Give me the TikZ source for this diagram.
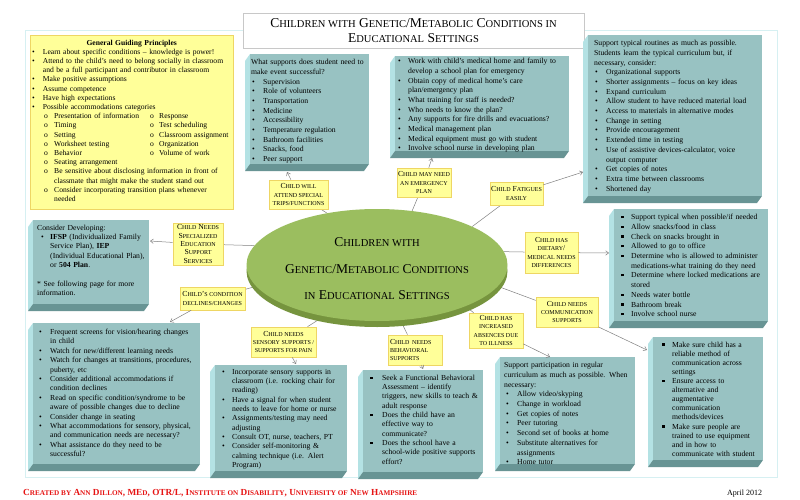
\documentclass[tikz,border=0pt]{standalone}
\usepackage{fontspec}
\setmainfont{Liberation Serif}
\usetikzlibrary{shapes.geometric,arrows.meta}
\pgfdeclarelayer{bg}
\pgfsetlayers{bg,main}
\makeatletter
\newcommand\lc[1]{{\fontsize{\fpeval{0.78*\f@size}}{\f@baselineskip}\selectfont #1}}
\makeatother
\newcommand\bl[3]{\par\noindent\hangindent=#2pt\hangafter=1\makebox[#2pt][l]{\hspace*{#1pt}\textbullet}{\let\\\newline #3}\par}
\newcommand\sq[3]{\par\noindent\hangindent=#2pt\hangafter=1\makebox[#2pt][l]{\hspace*{#1pt}\rule[1.5pt]{2.3pt}{2.3pt}}{\let\\\newline #3}\par}
\newcommand\pl[1]{\par\noindent{\let\\\newline #1}\par}
\newcommand\yo[1]{\par\noindent\hangindent=22pt\hangafter=1\makebox[22pt][l]{\hspace*{12pt}o}{\let\\\newline #1}\par}
\newcommand\yoo[2]{\par\noindent\makebox[22pt][l]{\hspace*{12pt}o}\makebox[96pt][l]{#1}\makebox[9pt][l]{o}#2\par}
\definecolor{cFace}{RGB}{152,194,194}
\definecolor{cSide}{RGB}{180,226,228}
\definecolor{cBot}{RGB}{104,148,148}
\definecolor{cYf}{RGB}{255,255,153}
\definecolor{cYb}{RGB}{238,214,100}
\definecolor{cGreen}{RGB}{155,190,95}
\definecolor{cLip}{RGB}{118,148,62}
\definecolor{cConn}{RGB}{128,128,128}
\definecolor{cFrame}{RGB}{214,240,242}
\definecolor{cTitle}{RGB}{200,200,200}
\definecolor{cRed}{RGB}{230,20,20}
\newcommand\tealbox[5]{%
  \fill[cSide] (#2,#3) -- ({#2-5},{#3+7}) -- ({#2-5},{#5+7}) -- (#2,#5) -- cycle;
  \fill[cBot] (#2,#5) -- (#4,#5) -- ({#4-5},{#5+7}) -- ({#2-5},{#5+7}) -- cycle;
  \node[tface, anchor=north west, minimum width={#4-#2}, minimum height={#5-#3}] (#1) at (#2,#3) {};
}
\begin{document}
\begin{tikzpicture}[x=1pt,y=-1pt,
  tface/.style={fill=cFace, draw=none, inner sep=0pt, rectangle},
  txt/.style={anchor=base west, inner sep=0pt, text width=260pt, align=left, font=\fontsize{7.7}{9.7}\selectfont},
  lab/.style={fill=cYf, draw=cYb, line width=0.6pt, inner sep=0pt, align=center, font=\fontsize{7.7}{8.4}\selectfont},
  link/.style={draw=cConn, line width=0.5pt},
  arr/.style={draw=cConn, line width=0.5pt, -{Straight Barb[length=3pt,width=4.5pt]}}]
\useasboundingbox (0,0) rectangle (800,500);
\begin{pgfonlayer}{bg}
\fill[white] (0,0) rectangle (800,500);
\draw[cFrame, line width=0.8pt] (25,30) rectangle (777,477);
\end{pgfonlayer}

% title
\node[draw=cTitle, fill=white, minimum width=341pt, minimum height=35pt, inner sep=0pt, align=center, font=\fontsize{13.5}{15}\selectfont] (title) at (413.5,30.5)
  {C\lc{HILDREN WITH} G\lc{ENETIC}/M\lc{ETABOLIC} C\lc{ONDITIONS IN}\\E\lc{DUCATIONAL} S\lc{ETTINGS}};

% general guiding principles
\node[fill=cYf, draw=cYb, line width=0.6pt, anchor=north west, minimum width=203pt, minimum height=174pt, inner sep=0pt] (ggp) at (30,35) {};
\node[txt, font=\fontsize{7.6}{9.2}\selectfont] (ggpt) at (32,36) {%
\pl{\makebox[199pt][c]{\textbf{General Guiding Principles}}}
\bl{0}{10.7}{Learn about specific conditions – knowledge is power!}
\bl{0}{10.7}{Attend to the child’s need to belong socially in classroom\\ and be a full participant and contributor in classroom}
\bl{0}{10.7}{Make positive assumptions}
\bl{0}{10.7}{Assume competence}
\bl{0}{10.7}{Have high expectations}
\bl{0}{10.7}{Possible accommodations categories}
\yoo{Presentation of information}{Response}
\yoo{Timing}{Test scheduling}
\yoo{Setting}{Classroom assignment}
\yoo{Worksheet testing}{Organization}
\yoo{Behavior}{Volume of work}
\yo{Seating arrangement}
\yo{Be sensitive about disclosing information in front of\\ classmate that might make the student stand out}
\yo{Consider incorporating transition plans whenever\\ needed}};

% B1 special trips
\tealbox{b1}{250}{54}{369}{164}
\node[txt] (b1t) at (251,55) {%
\pl{What supports does student need to\\ make event successful?}
\bl{1}{12}{Supervision}
\bl{1}{12}{Role of volunteers}
\bl{1}{12}{Transportation}
\bl{1}{12}{Medicine}
\bl{1}{12}{Accessibility}
\bl{1}{12}{Temperature regulation}
\bl{1}{12}{Bathroom facilities}
\bl{1}{12}{Snacks, food}
\bl{1}{12}{Peer support}};

% B2 emergency
\tealbox{b2}{395}{56}{569}{151}
\node[txt] (b2t) at (397,54) {%
\bl{1}{11}{Work with child’s medical home and family to\\ develop a school plan for emergency}
\bl{1}{11}{Obtain copy of medical home’s care\\ plan/emergency plan}
\bl{1}{11}{What training for staff is needed?}
\bl{1}{11}{Who needs to know the plan?}
\bl{1}{11}{Any supports for fire drills and evacuations?}
\bl{1}{11}{Medical management plan}
\bl{1}{11}{Medical equipment must go with student}
\bl{1}{11}{Involve school nurse in developing plan}};

% B3 fatigues
\tealbox{b3}{588}{35}{762}{196}
\node[txt] (b3t) at (594,36) {%
\pl{Support typical routines as much as possible.\\ Students learn the typical curriculum but, if\\ necessary, consider:}
\bl{1}{12}{Organizational supports}
\bl{1}{12}{Shorter assignments – focus on key ideas}
\bl{1}{12}{Expand curriculum}
\bl{1}{12}{Allow student to have reduced material load}
\bl{1}{12}{Access to materials in alternative modes}
\bl{1}{12}{Change in setting}
\bl{1}{12}{Provide encouragement}
\bl{1}{12}{Extended time in testing}
\bl{1}{12}{Use of assistive devices-calculator, voice\\ output computer}
\bl{1}{12}{Get copies of notes}
\bl{1}{12}{Extra time between classrooms}
\bl{1}{12}{Shortened day}};

% B4 dietary
\tealbox{b4}{614}{209}{768}{321}
\node[txt] (b4t) at (620,210) {%
\sq{1}{11}{Support typical when possible/if needed}
\sq{1}{11}{Allow snacks/food in class}
\sq{1}{11}{Check on snacks brought in}
\sq{1}{11}{Allowed to go to office}
\sq{1}{11}{Determine who is allowed to administer\\ medications-what training do they need}
\sq{1}{11}{Determine where locked medications are\\ stored}
\sq{1}{11}{Needs water bottle}
\sq{1}{11}{Bathroom break}
\sq{1}{11}{Involve school nurse}};

% B5 communication
\tealbox{b5}{653}{337}{763}{460}
\node[txt, font=\fontsize{7.7}{9.1}\selectfont] (b5t) at (661,338) {%
\sq{1}{11}{Make sure child has a\\ reliable method of\\ communication across\\ settings}
\sq{1}{11}{Ensure access to\\ alternative and\\ augmentative\\ communication\\ methods/devices}
\sq{1}{11}{Make sure people are\\ trained to use equipment\\ and in how to\\ communicate with student}};

% B6 absences
\tealbox{b6}{500}{357}{635}{464}
\node[txt] (b6t) at (504,358) {%
\pl{Support participation in regular\\ curriculum as much as possible. When\\ necessary:}
\bl{2}{13}{Allow video/skyping}
\bl{2}{13}{Change in workload}
\bl{2}{13}{Get copies of notes}
\bl{2}{13}{Peer tutoring}
\bl{2}{13}{Second set of books at home}
\bl{2}{13}{Substitute alternatives for\\ assignments}
\bl{2}{13}{Home tutor}};

% B7 behavioral
\tealbox{b7}{363}{370}{483}{472}
\node[txt, font=\fontsize{7.7}{9.3}\selectfont] (b7t) at (369,371) {%
\sq{1}{13}{Seek a Functional Behavioral\\ Assessment – identify\\ triggers, new skills to teach \&\\ adult response}
\sq{1}{13}{Does the child have an\\ effective way to\\ communicate?}
\sq{1}{13}{Does the school have a\\ school-wide positive supports\\ effort?}};

% B8 sensory
\tealbox{b8}{215}{365}{347}{471}
\node[txt, font=\fontsize{7.7}{9.3}\selectfont] (b8t) at (221,365) {%
\bl{1}{11}{Incorporate sensory supports in\\ classroom (i.e. rocking chair for\\ reading)}
\bl{1}{11}{Have a signal for when student\\ needs to leave for home or nurse}
\bl{1}{11}{Assignments/testing may need\\ adjusting}
\bl{1}{11}{Consult OT, nurse, teachers, PT}
\bl{1}{11}{Consider self-monitoring \&\\ calming technique (i.e. Alert\\ Program)}};

% B9 declines
\tealbox{b9}{33}{323}{200}{464}
\node[txt, font=\fontsize{7.7}{9.4}\selectfont] (b9t) at (38,325) {%
\bl{1}{12}{Frequent screens for vision/hearing changes\\ in child}
\bl{1}{12}{Watch for new/different learning needs}
\bl{1}{12}{Watch for changes at transitions, procedures,\\ puberty, etc}
\bl{1}{12}{Consider additional accommodations if\\ condition declines}
\bl{1}{12}{Read on specific condition/syndrome to be\\ aware of possible changes due to decline}
\bl{1}{12}{Consider change in seating}
\bl{1}{12}{What accommodations for sensory, physical,\\ and communication needs are necessary?}
\bl{1}{12}{What assistance do they need to be\\ successful?}};

% B10 specialized
\tealbox{b10}{33}{220}{149}{304}
\node[txt, font=\fontsize{7.7}{9.3}\selectfont] (b10t) at (37,221) {%
\pl{Consider Developing:}
\bl{4}{13}{\textbf{IFSP} (Individualized Family\\ Service Plan), \textbf{IEP}\\ (Individual Educational Plan),\\ or \textbf{504 Plan}.}
\vspace{9.3pt}
\pl{* See following page for more\\ information.}};

% hub
\node[ellipse, fill=cLip, minimum width=261pt, minimum height=112pt, inner sep=0pt] (hublip) at (377,271) {};
\node[ellipse, fill=cGreen, minimum width=261pt, minimum height=112pt, inner sep=0pt] (hub) at (377,265) {};
\node[align=center, inner sep=0pt, font=\fontsize{13.5}{26.5}\selectfont] (hubt) at (377,269)
  {C\lc{HILDREN WITH}\\G\lc{ENETIC}/M\lc{ETABOLIC} C\lc{ONDITIONS}\\\lc{IN} E\lc{DUCATIONAL} S\lc{ETTINGS}};

% labels
\node[lab, minimum width=59pt, minimum height=29pt] (l1) at (298.5,194.5) {C\lc{HILD WILL}\\\lc{ATTEND SPECIAL}\\\lc{TRIPS/FUNCTIONS}};
\node[lab, minimum width=54pt, minimum height=29pt] (l2) at (424,182.5) {C\lc{HILD MAY NEED}\\\lc{AN EMERGENCY}\\\lc{PLAN}};
\node[lab, minimum width=53pt, minimum height=23pt] (l3) at (516.5,193.5) {C\lc{HILD} F\lc{ATIGUES}\\\lc{EASILY}};
\node[lab, minimum width=50pt, minimum height=42pt] (l4) at (198,244) {C\lc{HILD} N\lc{EEDS}\\S\lc{PECIALIZED}\\E\lc{DUCATION}\\S\lc{UPPORT}\\S\lc{ERVICES}};
\node[lab, minimum width=53pt, minimum height=41pt] (l5) at (551.5,252.5) {C\lc{HILD HAS}\\\lc{DIETARY}/\\\lc{MEDICAL NEEDS}\\\lc{DIFFERENCES}};
\node[lab, minimum width=65pt, minimum height=23pt] (l6) at (212.5,298.5) {C\lc{HILD}’\lc{S CONDITION}\\\lc{DECLINES/CHANGES}};
\node[lab, minimum width=62pt, minimum height=30pt] (l7) at (567,312) {C\lc{HILD NEEDS}\\\lc{COMMUNICATION}\\\lc{SUPPORTS}};
\node[lab, minimum width=54pt, minimum height=35pt] (l8) at (496,330.5) {C\lc{HILD HAS}\\\lc{INCREASED}\\\lc{ABSENCES DUE}\\\lc{TO ILLNESS}};
\node[lab, minimum width=65pt, minimum height=30pt] (l9) at (283.5,342) {C\lc{HILD NEEDS}\\\lc{SENSORY SUPPORTS /}\\\lc{SUPPORTS FOR PAIN}};
\node[lab, minimum width=54pt, minimum height=30pt, align=left, text width=50pt, inner xsep=2pt] (l10) at (415,350) {C\lc{HILD NEEDS}\\\lc{BEHAVIORAL}\\\lc{SUPPORTS}};

% hub to labels
\begin{pgfonlayer}{bg}
\draw[link] (hub.134) -- (l1);
\draw[link] (hub.57) -- (l2);
\draw[link] (hub.22) -- (l3);
\draw[link] (hub.171) -- (l4);
\draw[link] (hub.6) -- (l5);
\draw[link] (hub.190) -- (l6);
\draw[link] (hub.350) -- (l7);
\draw[link] (hub.335) -- (l8);
\draw[link] (hub.224) -- (l9);
\draw[link] (hub.293) -- (l10);
\end{pgfonlayer}

% labels to boxes
\coordinate (t1) at (287,172);
\coordinate (t2) at (432,158);
\coordinate (t3) at (583,172);
\coordinate (t4) at (150,241);
\coordinate (t5) at (609,253);
\coordinate (t6) at (170,322);
\coordinate (t7) at (647,350);
\coordinate (t8) at (550,357);
\coordinate (t9) at (296,364);
\coordinate (t10) at (423,369);
\draw[arr] (l1) -- (t1);
\draw[arr] (l2) -- (t2);
\draw[arr] (l3) -- (t3);
\draw[arr] (l4) -- (t4);
\draw[arr] (l5) -- (t5);
\draw[arr] (l6) -- (t6);
\draw[arr] (l7) -- (t7);
\draw[arr] (l8) -- (t8);
\draw[arr] (l9) -- (t9);
\draw[arr] (l10) -- (t10);

% footer
\node[anchor=base west, inner sep=0pt, text=cRed, font=\bfseries\fontsize{9.25}{10}\selectfont] (foot) at (23,495)
  {C\lc{REATED BY} A\lc{NN} D\lc{ILLON}, ME\lc{D}, OTR/L, I\lc{NSTITUTE ON} D\lc{ISABILITY}, U\lc{NIVERSITY OF} N\lc{EW} H\lc{AMPSHIRE}};
\node[anchor=base west, inner sep=0pt, font=\fontsize{8}{9}\selectfont] (date) at (727,495) {April 2012};
\end{tikzpicture}
\end{document}
